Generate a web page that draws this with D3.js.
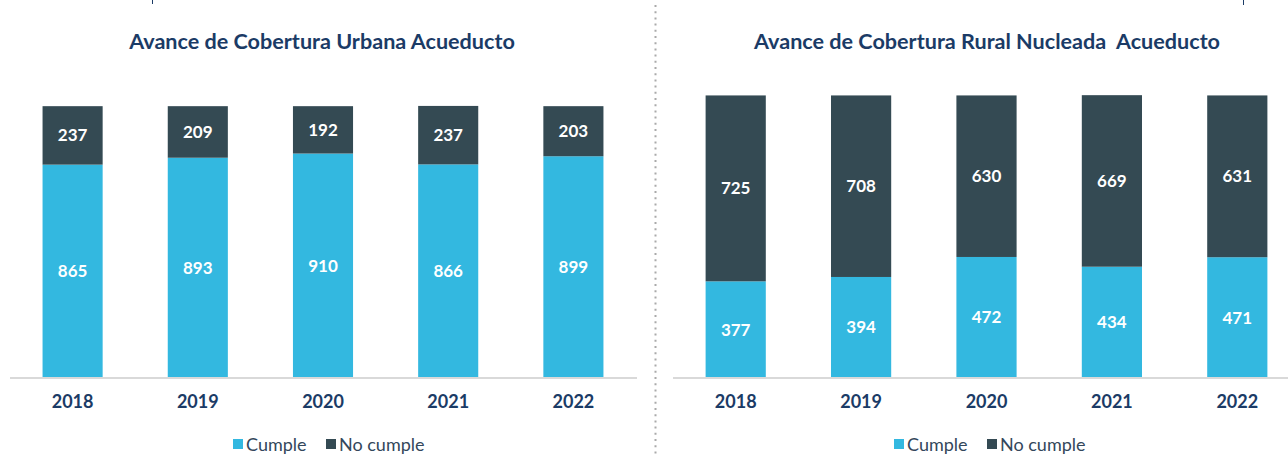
<!DOCTYPE html>
<html>
<head>
<meta charset="utf-8">
<script src="https://cdn.jsdelivr.net/npm/d3@7"></script>
<style>
  body { margin: 0; background: #fff; }
  svg { display: block; font-family: Lato, "Open Sans", sans-serif; }
</style>
</head>
<body>
<svg id="chart" width="1288" height="456"></svg>
<script>
// data
const years = ["2018", "2019", "2020", "2021", "2022"];
const urbanaCumple = [865, 893, 910, 866, 899];
const urbanaNoCumple = [237, 209, 192, 237, 203];
const ruralCumple = [377, 394, 472, 434, 471];
const ruralNoCumple = [725, 708, 630, 669, 631];
const seriesNames = ["Cumple", "No cumple"];

const cCumple = "#33b8e0";
const cNo = "#344a53";
const navy = "#1b3b66";

const svg = d3.select("#chart");

// dotted divider
svg.append("line")
  .attr("x1", 655.5).attr("x2", 655.5)
  .attr("y1", 5).attr("y2", 456)
  .attr("stroke", "#aaa").attr("stroke-width", 2)
  .attr("stroke-dasharray", "2,4.2");

// little cut-off marks at top
svg.append("line").attr("x1", 152.5).attr("x2", 152.5).attr("y1", 0).attr("y2", 4)
  .attr("stroke", navy).attr("stroke-width", 1);
svg.append("line").attr("x1", 1243.5).attr("x2", 1243.5).attr("y1", 0).attr("y2", 5)
  .attr("stroke", navy).attr("stroke-width", 1);

function panel(opts) {
  const g = svg.append("g");
  const x = d3.scaleBand().domain(years).range(opts.xr).paddingInner(0.52).paddingOuter(0.26);
  const y = d3.scaleLinear().domain([0, 1200]).range([378, opts.ytop]);

  const rows = years.map((yr, i) => ({ year: yr, Cumple: opts.a[i], "No cumple": opts.b[i] }));
  const stack = d3.stack().keys(seriesNames)(rows);
  const colors = d3.scaleOrdinal().domain(seriesNames).range([cCumple, cNo]);

  g.append("text")
    .attr("x", opts.tx).attr("y", 49)
    .attr("text-anchor", "middle")
    .attr("fill", navy)
    .attr("font-size", 21.6).attr("font-weight", 700)
    .style("white-space", "pre")
    .text(opts.title);

  const layer = g.selectAll(".layer").data(stack).enter().append("g")
    .attr("fill", d => colors(d.key));
  layer.selectAll("rect").data(d => d).enter().append("rect")
    .attr("x", d => x(d.data.year))
    .attr("width", x.bandwidth())
    .attr("y", d => y(d[1]))
    .attr("height", d => y(d[0]) - y(d[1]));

  layer.selectAll("text").data(d => d).enter().append("text")
    .attr("x", d => x(d.data.year) + x.bandwidth() / 2)
    .attr("y", d => (y(d[0]) + y(d[1])) / 2 + 6)
    .attr("text-anchor", "middle")
    .attr("fill", "#fff")
    .attr("font-size", 17).attr("font-weight", 700)
    .text(d => d[1] - d[0]);

  // axis
  const ax = g.append("g").attr("transform", "translate(0,378)")
    .call(d3.axisBottom(x).tickSize(0).tickPadding(17));
  ax.select(".domain").attr("stroke", "#d9d9d9").attr("stroke-width", 2)
    .attr("d", `M${opts.lx[0]},0H${opts.lx[1]}`);
  ax.selectAll("text")
    .attr("fill", navy).attr("font-size", 18).attr("font-weight", 700)
    .attr("font-family", "Lato, sans-serif");

  // legend
  const lg = g.append("g").attr("transform", `translate(${opts.lgx},0)`);
  const items = [{ k: "Cumple", x: 0 }, { k: "No cumple", x: 93 }];
  items.forEach(it => {
    lg.append("rect").attr("x", it.x).attr("y", 439).attr("width", 10).attr("height", 10)
      .attr("fill", colors(it.k));
    lg.append("text").attr("x", it.x + 13).attr("y", 451)
      .attr("fill", "#33475b").attr("font-size", 18)
      .text(it.k);
  });
}

panel({
  title: "Avance de Cobertura Urbana Acueducto", tx: 322,
  xr: [10, 636], lx: [10, 637], ytop: 82,
  a: urbanaCumple, b: urbanaNoCumple, lgx: 233
});
panel({
  title: "Avance de Cobertura Rural Nucleada  Acueducto", tx: 987,
  xr: [673, 1300], lx: [673, 1288], ytop: 70.3,
  a: ruralCumple, b: ruralNoCumple, lgx: 894
});
</script>
</body>
</html>
